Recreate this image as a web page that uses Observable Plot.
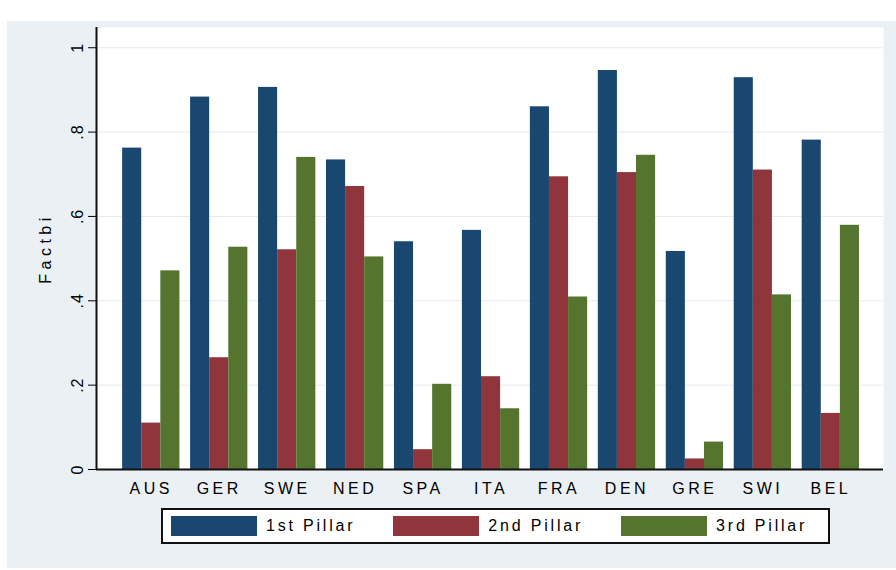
<!DOCTYPE html>
<html>
<head>
<meta charset="utf-8">
<script src="https://cdn.jsdelivr.net/npm/d3@7"></script>
<script src="https://cdn.jsdelivr.net/npm/@observablehq/plot@0.6"></script>
<style>
  html, body { margin: 0; padding: 0; background: #ffffff; }
  body { width: 896px; height: 570px; position: relative; overflow: hidden;
         font-family: "Liberation Sans", Arial, sans-serif; }
  #bg { position: absolute; left: 7px; top: 21px; width: 889px; height: 547px; background: #eaf0f3; }
  #chart { position: absolute; left: 0; top: 0; }
  #chart svg text { fill: #000; }
  #legend { position: absolute; left: 154px; top: 487px; width: 657px; height: 32px;
            border: 2px solid #111; background: #fff; display: flex; align-items: center;
            padding-left: 8px; box-sizing: content-box; }
  .item { display: flex; align-items: center; margin-right: 38px; }
  .sw { width: 86px; height: 20px; margin-right: 9px; }
  .lab { font-size: 16px; letter-spacing: 2.8px; color: #000; white-space: nowrap; }
</style>
</head>
<body>
<div id="bg">
  <div id="chart"></div>
  <div id="legend"></div>
</div>
<script>
// ---- data ----
const countries = ["AUS", "GER", "SWE", "NED", "SPA", "ITA", "FRA", "DEN", "GRE", "SWI", "BEL"];
const seriesNames = ["1st Pillar", "2nd Pillar", "3rd Pillar"];
const pillar1 = [0.762, 0.883, 0.906, 0.734, 0.540, 0.567, 0.860, 0.946, 0.517, 0.929, 0.781];
const pillar2 = [0.110, 0.265, 0.521, 0.671, 0.047, 0.220, 0.694, 0.704, 0.025, 0.710, 0.133];
const pillar3 = [0.471, 0.527, 0.740, 0.504, 0.202, 0.144, 0.409, 0.745, 0.065, 0.414, 0.579];
const yTicks = [0, 0.2, 0.4, 0.6, 0.8, 1];
const yTickLabels = ["0", ".2", ".4", ".6", ".8", "1"];
const yLabel = "Factbi";
const colors = ["#1a476f", "#90353b", "#55752f"];

// ---- layout constants ----
const barW = 0.281;            // bar width in group units
const xDomain = [-0.806, 10.775];

const seriesValues = [pillar1, pillar2, pillar3];
const rows = [];
seriesValues.forEach((vals, j) => {
  vals.forEach((v, i) => rows.push({country: countries[i], i, j, series: seriesNames[j], value: v}));
});

const chart = Plot.plot({
  width: 889,
  height: 484,
  marginLeft: 89,
  marginRight: 13,
  marginTop: 6,
  marginBottom: 36,
  style: {background: "transparent", fontFamily: "Liberation Sans, Arial, sans-serif", fontSize: "15px", color: "#000"},
  x: {
    type: "linear",
    domain: xDomain,
    ticks: d3.range(countries.length),
    tickFormat: i => countries[i],
    tickSize: 0,
    tickPadding: 13,
    label: null
  },
  y: {
    domain: [0, 1.048],
    ticks: yTicks,
    tickFormat: d => yTickLabels[yTicks.indexOf(d)],
    tickSize: 8,
    tickPadding: 6,
    tickRotate: -90,
    label: yLabel,
    labelAnchor: "center",
    labelOffset: 57
  },
  color: {domain: seriesNames, range: colors},
  marks: [
    Plot.frame({fill: "#ffffff", stroke: "none"}),
    Plot.ruleY(yTicks.slice(1), {stroke: "#e3eaee", strokeWidth: 1}),
    Plot.rect(rows, {
      x1: d => d.i + (d.j - 1.5) * barW,
      x2: d => d.i + (d.j - 0.5) * barW,
      y1: 0,
      y2: "value",
      fill: "series"
    }),
    Plot.ruleY([0], {stroke: "#111", strokeWidth: 2}),
    Plot.ruleX([xDomain[0]], {stroke: "#111", strokeWidth: 2})
  ]
});
document.getElementById("chart").appendChild(chart);

// style text: tick labels / axis label
chart.querySelectorAll("text").forEach(t => {
  const s = t.textContent;
  if (s.startsWith(yLabel)) {
    t.textContent = yLabel;
    t.style.fontSize = "16px";
    t.style.letterSpacing = "4.5px";
  } else if (countries.includes(s)) {
    t.style.fontSize = "16px";
    t.style.letterSpacing = "3.5px";
  } else if (yTickLabels.includes(s)) {
    t.style.fontSize = "16px";
    t.style.letterSpacing = "1px";
  }
});

// ---- legend ----
const legend = document.getElementById("legend");
seriesNames.forEach((name, j) => {
  const item = document.createElement("div");
  item.className = "item";
  const sw = document.createElement("div");
  sw.className = "sw";
  sw.style.background = colors[j];
  const lab = document.createElement("span");
  lab.className = "lab";
  lab.textContent = name;
  item.appendChild(sw);
  item.appendChild(lab);
  legend.appendChild(item);
});
</script>
</body>
</html>
